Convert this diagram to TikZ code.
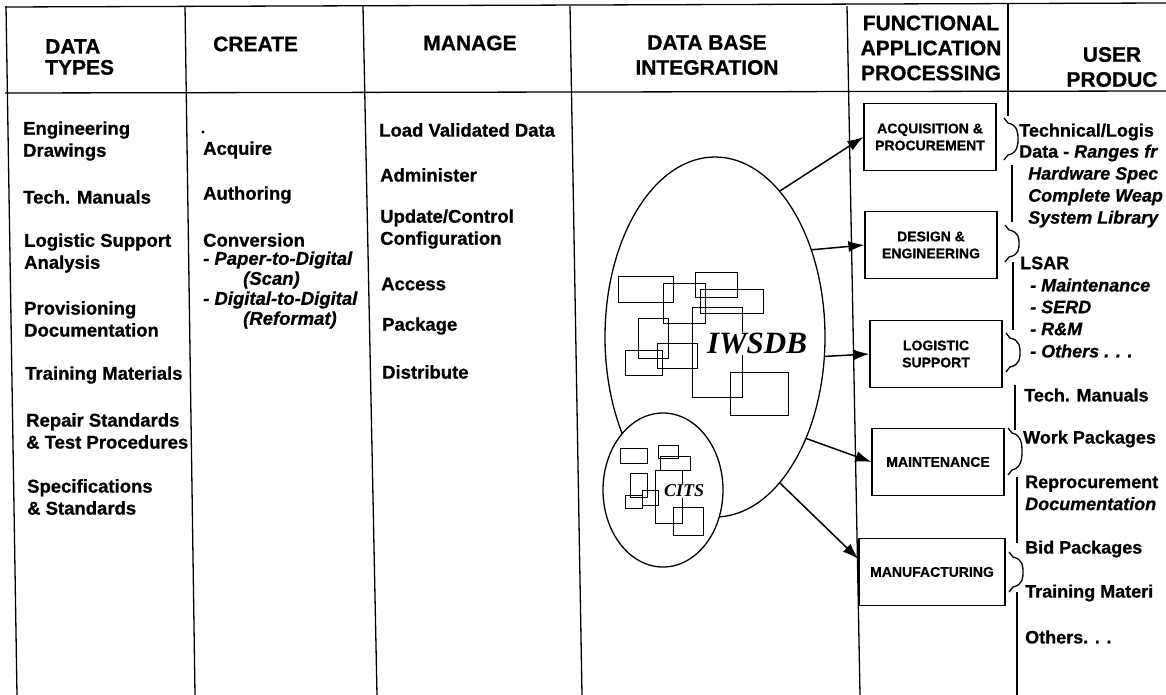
\documentclass[tikz,border=0pt]{standalone}
\usepackage{fontspec}
\setmainfont{Liberation Sans}[BoldFeatures={FakeBold=0.8},BoldItalicFeatures={FakeBold=0.8}]
\newfontfamily\dbfont{Liberation Serif}
\usepackage{tikz}
\usetikzlibrary{positioning,shapes.geometric,arrows.meta}
\tikzset{
  rule/.style={draw=black,line width=1.3pt},
  colhead/.style={font=\fontsize{21}{25}\selectfont\bfseries,align=center,inner sep=0pt},
  item/.style={font=\fontsize{18.5}{22}\selectfont\bfseries,anchor=west,align=left,inner sep=0pt},
  subitem/.style={item,font=\fontsize{18.5}{22}\selectfont\bfseries\itshape},
  prod/.style={item,font=\fontsize{18}{22}\selectfont\bfseries},
  prodit/.style={item,font=\fontsize{18}{22}\selectfont\bfseries\itshape},
  fbox/.style={draw=black,line width=1.3pt,minimum width=132pt,minimum height=67pt,align=center,inner sep=0pt,font=\fontsize{14}{17}\selectfont\bfseries},
  blob/.style={ellipse,draw=black,line width=1.3pt,fill=white,inner sep=0pt},
  feed/.style={draw=black,line width=1.5pt,-{Latex[length=16pt,width=11pt]}},
  scrib/.style={draw=black,line width=0.9pt},
  tag/.style={fill=white,inner sep=1pt},
}

\begin{document}
\begin{tikzpicture}[x=1pt,y=-1pt]
    \useasboundingbox (0,0) rectangle (1166,695);
    \clip (0,0) rectangle (1166,695);
    % table rules
    \draw[rule] (5,7) -- (1166,3);
    \draw[rule] (5,93) -- (1166,91);
    \foreach \a/\b in {6/17,185/195,363/377,570/582,847/860} {\draw[rule] (\a,6) -- (\b,695);}
    \foreach \x/\t/\b in {1008/4/116,1012/165/222,1013/262/330,1015/385/430,1017/477/543,1017/592/695} {\draw[rule] (\x,\t) -- (\x,\b);}
    % headings
    \node[colhead,align=left,anchor=west] (hType) at (45,57) {DATA\\[-4pt]TYPES};
    \node[colhead,anchor=west] (hCreate) at (213,44) {CREATE};
    \node[colhead] (hManage) at (470,43) {MANAGE};
    \node[colhead] (hBase) at (707,55) {DATA BASE\\INTEGRATION};
    \node[colhead] (hFunc) at (931,48) {FUNCTIONAL\\APPLICATION\\PROCESSING};
    \node[colhead] (hUser) at (1112,67) {USER\\PRODUC};
    % data types
    \foreach \x/\y/\txt [count=\i] in {23/141/{Engineering\\Drawings},23/197/{Tech. Manuals},24/253/{Logistic Support\\Analysis},24/319/{Provisioning\\Documentation},25/375/{Training Materials},26/431/{Repair Standards\\\& Test Procedures},27/497/{Specifications\\\& Standards}}
      {\node[item] (type\i) at (\x,\y) {\txt};}
    % create
    \fill (203,132) circle (1.7pt);
    \foreach \y/\txt [count=\i] in {150/Acquire,195/Authoring,240/Conversion}
      {\node[item] (make\i) at (203,\y) {\txt};}
    \foreach \x/\y/\txt [count=\i] in {203/260/{- Paper-to-Digital},243/280/{(Scan)},203/300/{- Digital-to-Digital},243/320/{(Reformat)}}
      {\node[subitem] (conv\i) at (\x,\y) {\txt};}
    % manage
    \foreach \x/\y/\txt [count=\i] in {379/130/{Load Validated Data},380/175/Administer,380/229/{Update/Control\\Configuration},381/284/Access,382/326/Package,382/372/Distribute}
      {\node[item] (mng\i) at (\x,\y) {\txt};}
    % data base
    \node[blob,minimum width=220pt,minimum height=360pt] (iwsdb) at (715,337) {};
    \foreach \a/\b/\c/\d in {618/276/673/302,663/283/705/323,695/272/737/297,700/289/763/313,692/307/742/397,638/318/668/358,657/343/697/368,625/350/662/375,730/372/788/415}
      {\draw[scrib] (\a,\b) rectangle (\c,\d);}
    \node[tag,font=\dbfont\fontsize{31}{31}\selectfont\bfseries\itshape] (iwsdbName) at (757,343) {IWSDB};
    \node[blob,minimum width=120pt,minimum height=154pt] (cits) at (663,490) {};
    \foreach \a/\b/\c/\d in {620/448/647/463,658/445/678/458,660/456/690/470,630/473/647/497,642/490/658/505,625/495/642/508,655/470/682/523,673/507/703/535}
      {\draw[scrib] (\a,\b) rectangle (\c,\d);}
    \node[tag,font=\dbfont\fontsize{18}{18}\selectfont\bfseries\itshape] (citsName) at (684,491) {CITS};
    % functional processing
    \node[fbox] (acq) at (930,137) {ACQUISITION \&\\PROCUREMENT};
    \node[fbox] (design) at (931,245) {DESIGN \&\\ENGINEERING};
    \node[fbox] (logsup) at (936,354) {LOGISTIC\\SUPPORT};
    \node[fbox] (maint) at (938,462) {MAINTENANCE};
    \node[fbox,minimum width=146pt] (manuf) at (932,572) {MANUFACTURING};
    \draw[feed] (iwsdb.66) -- (acq.west);
    \draw[feed] (iwsdb.42) -- (design.west);
    \draw[feed] (iwsdb.-10) -- (logsup.west);
    \draw[feed] (iwsdb.-48) -- (maint.west);
    \draw[feed] (iwsdb.-66) -- (manuf.170);
    \foreach \x/\t/\b in {1004/118/160,1005/225/262,1006/333/372,1008/428/475,1009/552/592} {
      \pgfmathsetmacro\m{(\t+\b)/2}
      \draw[rule] (\x,\t) -- (\x+4,\t+5) .. controls (\x+14,\t+7) and (\x+14,\m-5) .. (\x+14,\m)
        .. controls (\x+14,\m+5) and (\x+14,\b-7) .. (\x+4,\b-5) -- (\x,\b);
    }
    % user products
    \foreach \x/\y/\txt [count=\i] in {1019/132/{Technical/Logis},1019/153/{Data - \textit{Ranges fr}},1020/263/LSAR,1024/395/{Tech. Manuals},1023/439/{Work Packages},1025/493/{Reprocurement\\\textit{Documentation}},1025/549/{Bid Packages},1025/593/{Training Materi},1025/637/{Others. . .}}
      {\node[prod] (prod\i) at (\x,\y) {\txt};}
    \foreach \x/\y/\txt [count=\i] in {1028/175/{Hardware Spec},1028/197/{Complete Weap},1028/219/{System Library},1030/285/{- Maintenance},1030/307/{- SERD},1030/329/{- R\&M},1030/351/{- Others . . .}}
      {\node[prodit] (note\i) at (\x,\y) {\txt};}
\end{tikzpicture}
\end{document}
